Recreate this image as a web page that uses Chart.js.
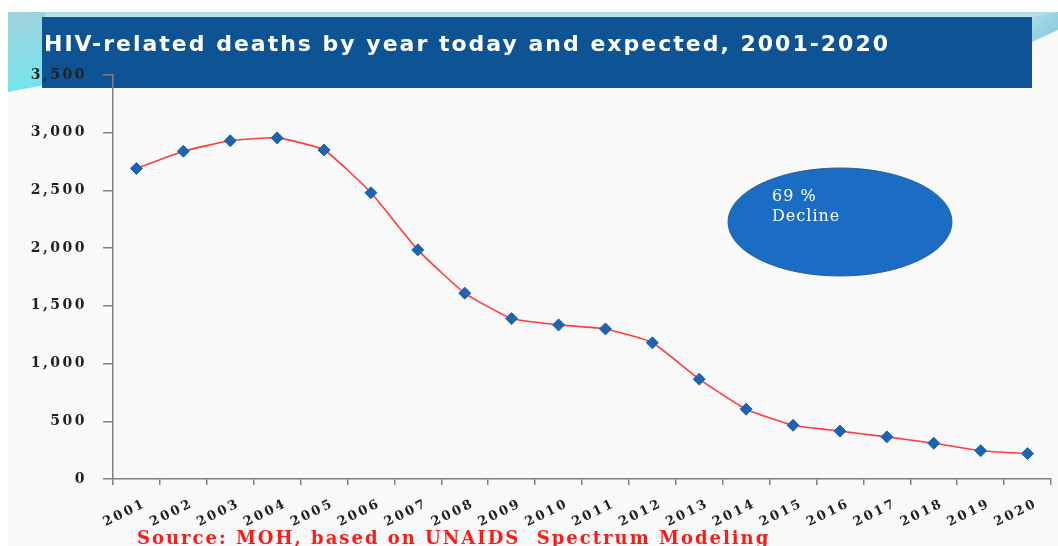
<!DOCTYPE html>
<html>
<head>
<meta charset="utf-8">
<script src="https://cdn.jsdelivr.net/npm/chart.js@4"></script>
<style>
html,body{margin:0;padding:0;background:#fff;}
#c{display:block;}
</style>
</head>
<body>
<canvas id="c" width="1058" height="546"></canvas>
<script>
const titleText = 'HIV-related deaths by year today and expected, 2001-2020';
const sourceText = 'Source: MOH, based on UNAIDS  Spectrum Modeling';
const calloutLines = ['69 %', 'Decline'];
const years = ['2001','2002','2003','2004','2005','2006','2007','2008','2009','2010',
               '2011','2012','2013','2014','2015','2016','2017','2018','2019','2020'];
const deaths = [2690, 2840, 2930, 2955, 2850, 2480, 1985, 1610, 1390, 1335,
                1300, 1180, 865, 605, 465, 415, 365, 310, 245, 220];
const yMin = 0;
const yMax = 3500;
const yStep = 500;

const decor = {
  id: 'decor',
  beforeDraw(chart) {
    const ctx = chart.ctx;
    ctx.save();
    ctx.fillStyle = '#ffffff';
    ctx.fillRect(0, 0, 1058, 546);
    ctx.fillStyle = '#f9f9f9';
    ctx.fillRect(8, 12, 1050, 534);
    // teal band at top
    let g = ctx.createLinearGradient(0, 12, 0, 18);
    g.addColorStop(0, '#a8d8e0');
    g.addColorStop(1, '#c8eaee');
    ctx.fillStyle = g;
    ctx.fillRect(8, 12, 1050, 5);
    // left cyan wedge
    g = ctx.createLinearGradient(8, 12, 40, 90);
    g.addColorStop(0, '#a3d2de');
    g.addColorStop(1, '#72e6ee');
    ctx.fillStyle = g;
    ctx.beginPath();
    ctx.moveTo(8, 12); ctx.lineTo(45, 12); ctx.lineTo(45, 85); ctx.lineTo(8, 92);
    ctx.closePath(); ctx.fill();
    // right teal streaks
    g = ctx.createLinearGradient(1032, 12, 1058, 40);
    g.addColorStop(0, '#a9dbe4');
    g.addColorStop(1, '#86cbdc');
    ctx.fillStyle = g;
    ctx.beginPath();
    ctx.moveTo(1032, 17); ctx.lineTo(1058, 12); ctx.lineTo(1058, 30); ctx.lineTo(1032, 42);
    ctx.closePath(); ctx.fill();
    // title bar
    ctx.fillStyle = '#0e5394';
    ctx.fillRect(42, 17, 990, 71);
    ctx.fillStyle = '#ffffff';
    ctx.font = 'bold 22px "DejaVu Sans"';
    ctx.letterSpacing = '2px';
    ctx.textBaseline = 'middle';
    ctx.textAlign = 'left';
    ctx.fillText(titleText, 44, 45);
    ctx.restore();
    chart.ctx.letterSpacing = '2.5px';
  },
  afterDraw(chart) {
    const ctx = chart.ctx;
    ctx.save();
    // callout ellipse
    ctx.fillStyle = '#1a6dc2';
    ctx.strokeStyle = '#2a5f99';
    ctx.lineWidth = 1;
    ctx.beginPath();
    ctx.ellipse(840, 222, 112, 54, 0, 0, Math.PI * 2);
    ctx.fill(); ctx.stroke();
    ctx.fillStyle = '#ffffff';
    ctx.font = '16px "DejaVu Serif"';
    ctx.letterSpacing = '1px';
    ctx.textAlign = 'left';
    ctx.textBaseline = 'middle';
    ctx.fillText(calloutLines[0], 772, 197);
    ctx.fillText(calloutLines[1], 772, 217);
    // source
    ctx.fillStyle = '#ff1a1a';
    ctx.font = 'bold 18px "DejaVu Serif"';
    ctx.letterSpacing = '2px';
    ctx.fillText(sourceText, 137, 539);
    ctx.restore();
    chart.ctx.letterSpacing = '0px';
  }
};

new Chart(document.getElementById('c'), {
  type: 'line',
  data: {
    labels: years,
    datasets: [{
      data: deaths,
      borderColor: '#ff3b3b',
      borderWidth: 1.6,
      tension: 0.15,
      pointStyle: 'rectRot',
      pointRadius: 6,
      pointHoverRadius: 6,
      pointBackgroundColor: '#1e63ad',
      pointBorderColor: '#1e63ad',
      pointBorderWidth: 1
    }]
  },
  options: {
    responsive: false,
    animation: false,
    devicePixelRatio: 1,
    layout: { padding: { top: 75, right: 6, left: 0, bottom: 0 } },
    plugins: { legend: { display: false }, title: { display: false }, tooltip: { enabled: false } },
    scales: {
      x: {
        offset: true,
        grid: { offset: true, drawOnChartArea: false, drawTicks: true, tickLength: 6, color: '#808080', lineWidth: 1.5 },
        border: { color: '#808080', width: 1.5 },
        ticks: {
          minRotation: 26, maxRotation: 26, autoSkip: false, padding: 11, labelOffset: 9,
          color: '#222', font: { family: '"DejaVu Serif"', size: 13, weight: 'bold' }
        },
        afterFit(s) { s.height = 67; }
      },
      y: {
        min: yMin, max: yMax,
        grid: { drawOnChartArea: false, drawTicks: true, tickLength: 10, color: '#808080', lineWidth: 1.5 },
        border: { color: '#808080', width: 1.5 },
        ticks: {
          stepSize: yStep, padding: 16,
          color: '#222', font: { family: '"DejaVu Serif"', size: 14, weight: 'bold' },
          callback: v => v.toLocaleString('en-US')
        },
        afterFit(s) { s.width = 113; }
      }
    }
  },
  plugins: [decor]
});
</script>
</body>
</html>
